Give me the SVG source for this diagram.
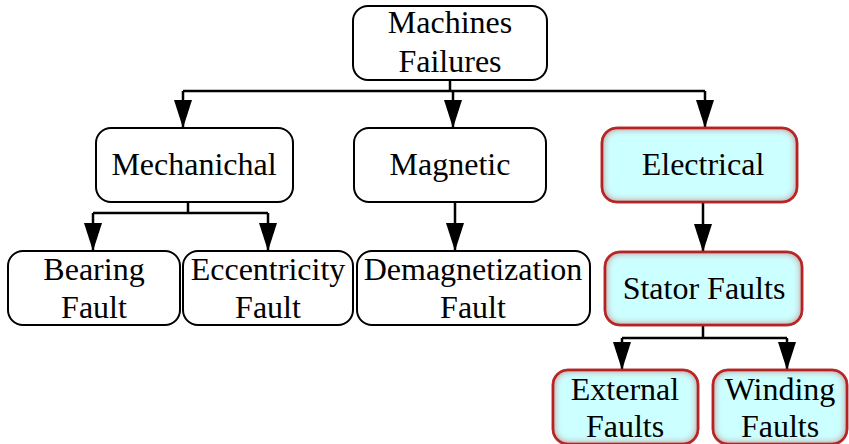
<svg xmlns="http://www.w3.org/2000/svg" width="849" height="444" viewBox="0 0 849 444">
  <defs>
    <marker id="tip" viewBox="0 0 28 18" refX="28" refY="9" markerWidth="28" markerHeight="18" markerUnits="userSpaceOnUse" orient="auto">
      <path d="M0,0 L28,9 L0,18 Z" fill="#000000"/>
    </marker>
    <!-- reddish inner glow for the highlighted branch -->
    <filter id="innerGlow" x="-10%" y="-20%" width="120%" height="140%">
      <feFlood flood-color="#c83030" result="c"/>
      <feComposite in="c" in2="SourceAlpha" operator="out" result="outside"/>
      <feGaussianBlur in="outside" stdDeviation="4" result="soft"/>
      <feComposite in="soft" in2="SourceAlpha" operator="in" result="glow"/>
      <feMerge>
        <feMergeNode in="SourceGraphic"/>
        <feMergeNode in="glow"/>
        <feMergeNode in="glow"/>
      </feMerge>
    </filter>
  </defs>

  <g id="connectors" fill="none" stroke="#000000" stroke-width="2.5">
    <path d="M450,80 V91 M183,91 H705"/>
    <path d="M183,91 V128" marker-end="url(#tip)"/>
    <path d="M453,91 V128" marker-end="url(#tip)"/>
    <path d="M705,91 V128" marker-end="url(#tip)"/>
    <path d="M188,202 V213 M93,213 H268"/>
    <path d="M93,213 V251" marker-end="url(#tip)"/>
    <path d="M268,213 V251" marker-end="url(#tip)"/>
    <path d="M455,202 V251" marker-end="url(#tip)"/>
    <path d="M703,202 V252" marker-end="url(#tip)"/>
    <path d="M703,325 V338 M622,338 H787"/>
    <path d="M622,338 V370" marker-end="url(#tip)"/>
    <path d="M787,338 V370" marker-end="url(#tip)"/>
  </g>

  <g id="machines-failures">
    <rect x="353" y="6" width="194" height="74" rx="15" fill="#fff" stroke="#000" stroke-width="2"/>
    <text x="450" y="33" font-size="32" style="font-family: 'Liberation Serif', serif" text-anchor="middle">Machines</text>
    <text x="450" y="72" font-size="32" style="font-family: 'Liberation Serif', serif" text-anchor="middle">Failures</text>
  </g>

  <g id="mechanichal">
    <rect x="96" y="128" width="197" height="74" rx="15" fill="#fff" stroke="#000" stroke-width="2"/>
    <text x="194" y="175" font-size="32" style="font-family: 'Liberation Serif', serif" text-anchor="middle">Mechanichal</text>
  </g>

  <g id="magnetic">
    <rect x="354" y="128" width="192" height="74" rx="15" fill="#fff" stroke="#000" stroke-width="2"/>
    <text x="450" y="175" font-size="32" style="font-family: 'Liberation Serif', serif" text-anchor="middle">Magnetic</text>
  </g>

  <g id="electrical">
    <rect x="602" y="128" width="195" height="74" rx="15" fill="#ccffff" stroke="#8b0000" stroke-width="2.5" filter="url(#innerGlow)"/>
    <text x="703" y="175" font-size="32" style="font-family: 'Liberation Serif', serif" text-anchor="middle">Electrical</text>
  </g>

  <g id="bearing-fault">
    <rect x="8" y="251" width="172" height="74" rx="15" fill="#fff" stroke="#000" stroke-width="2"/>
    <text x="94" y="280" font-size="32" style="font-family: 'Liberation Serif', serif" text-anchor="middle">Bearing</text>
    <text x="94" y="318" font-size="32" style="font-family: 'Liberation Serif', serif" text-anchor="middle">Fault</text>
  </g>

  <g id="eccentricity-fault">
    <rect x="183" y="251" width="170" height="74" rx="15" fill="#fff" stroke="#000" stroke-width="2"/>
    <text x="268" y="280" font-size="32" style="font-family: 'Liberation Serif', serif" text-anchor="middle">Eccentricity</text>
    <text x="268" y="318" font-size="32" style="font-family: 'Liberation Serif', serif" text-anchor="middle">Fault</text>
  </g>

  <g id="demagnetization-fault">
    <rect x="357" y="251" width="233" height="74" rx="15" fill="#fff" stroke="#000" stroke-width="2"/>
    <text x="473" y="280" font-size="32" style="font-family: 'Liberation Serif', serif" text-anchor="middle">Demagnetization</text>
    <text x="473" y="318" font-size="32" style="font-family: 'Liberation Serif', serif" text-anchor="middle">Fault</text>
  </g>

  <g id="stator-faults">
    <rect x="605" y="252" width="197" height="73" rx="15" fill="#ccffff" stroke="#8b0000" stroke-width="2.5" filter="url(#innerGlow)"/>
    <text x="704" y="299" font-size="32" style="font-family: 'Liberation Serif', serif" text-anchor="middle">Stator Faults</text>
  </g>

  <g id="external-faults">
    <rect x="553" y="370" width="145" height="74" rx="15" fill="#ccffff" stroke="#8b0000" stroke-width="2.5" filter="url(#innerGlow)"/>
    <text x="625" y="400" font-size="32" style="font-family: 'Liberation Serif', serif" text-anchor="middle">External</text>
    <text x="625" y="437" font-size="32" style="font-family: 'Liberation Serif', serif" text-anchor="middle">Faults</text>
  </g>

  <g id="winding-faults">
    <rect x="713" y="370" width="134" height="74" rx="15" fill="#ccffff" stroke="#8b0000" stroke-width="2.5" filter="url(#innerGlow)"/>
    <text x="780" y="400" font-size="32" style="font-family: 'Liberation Serif', serif" text-anchor="middle">Winding</text>
    <text x="780" y="437" font-size="32" style="font-family: 'Liberation Serif', serif" text-anchor="middle">Faults</text>
  </g>
</svg>
